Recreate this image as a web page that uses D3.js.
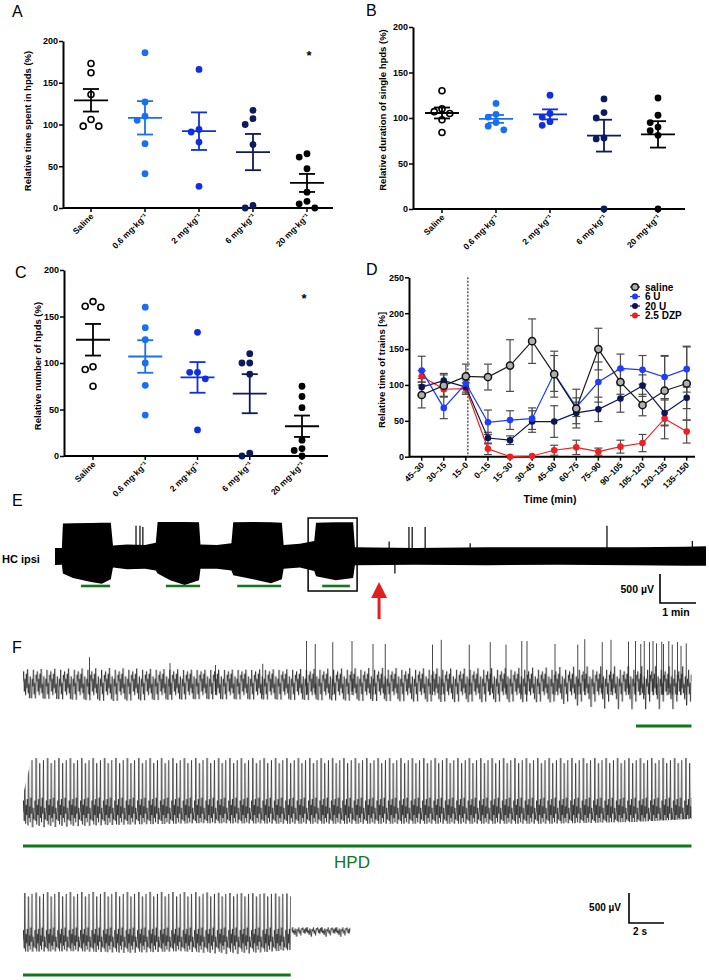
<!DOCTYPE html>
<html>
<head>
<meta charset="utf-8">
<script src="https://cdn.jsdelivr.net/npm/d3@7"></script>
<style>
body { margin: 0; background: #fff; }
svg { font-family: "Liberation Sans", Arial, sans-serif; }
</style>
</head>
<body>
<div id="fig"></div>
<script>
// ---- dose groups, panels A-C ----
const groups = ["Saline", "0.6 mg·kg⁻¹", "2 mg·kg⁻¹", "6 mg·kg⁻¹", "20 mg·kg⁻¹"];
const groupColors = ["#000000", "#1a6ff0", "#0f2fe0", "#0c1a5e", "#000000"];
const yTicksDose = [0, 50, 100, 150, 200];

// A: relative time spent in hpds (%)
const timeInHpds = [[173, 162, 136, 106, 98, 98], [186, 127, 110, 105, 77, 41], [166, 94, 91, 79, 26], [117, 107, 100, 76, 3, 0], [65, 61, 47, 19, 8, 5, 0]];
const timeMean = [129, 108, 92, 67, 30];
const timeSem = [13.5, 20, 22.5, 21.7, 10.8];

// B: relative duration of single hpds (%)
const durHpds = [[130, 110, 107, 105, 98, 84], [116, 104, 101, 95, 91, 87], [125, 105, 101, 96, 92], [121, 106, 100, 78, 77, 0], [122, 103, 95, 90, 86, 81, 0]];
const durMean = [105.5, 99, 104, 80.6, 82];
const durSem = [6, 4.3, 5.5, 17.5, 14.5];

// C: relative number of hpds (%)
const numHpds = [[166, 160, 161, 96, 93, 75], [160, 138, 125, 100, 76, 44], [133, 90, 90, 83, 28], [110, 100, 100, 88, 3, 0], [75, 64, 52, 17, 8, 6, 0]];
const numMean = [125, 107, 84.5, 67, 32];
const numSem = [17, 17.5, 16.5, 21, 11.5];

// ---- D: time course ----
const timeBins = ["45–30", "30–15", "15–0", "0–15", "15–30", "30–45", "45–60", "60–75", "75–90", "90–105", "105–120", "120–135", "135–150"];
const seriesNames = ["saline", "6 U", "20 U", "2.5 DZP"];
const salineD = [86, 99, 112, 111, 127, 161, 115, 67, 150, 104, 72, 92, 102];
const salineDsem = [18, 15, 17, 18, 36, 31, 32, 27, 29, 17, 15, 48, 51];
const u6D = [120, 68, 102, 48, 51, 53, 116, 69, 104, 123, 121, 111, 122];
const u6Dsem = [20, 15, 12, 17, 13, 15, 25, 13, 28, 20, 20, 30, 32];
const u20D = [97, 106, 97, 26, 23, 49, 49, 61, 66, 81, 99, 61, 82];
const u20Dsem = [12, 10, 10, 8, 6, 15, 22, 15, 17, 19, 15, 18, 15];
const dzpD = [112, 94, 95, 11, 0, 1, 9, 13, 7, 14, 19, 53, 35];
const dzpDsem = [8, 10, 8, 8, 0, 0, 7, 10, 5, 9, 12, 28, 16];

// ---- E: long trace, envelope [min, top µV, bottom µV] ----
const traceE = [[0, 138, -155], [0.19, 140, -150], [0.22, 560, -300], [0.5, 565, -380], [1.0, 570, -450], [1.3, 575, -480], [1.55, 575, -400],
  [1.61, 180, -200], [2.0, 200, -230], [2.5, 190, -220], [2.8, 230, -250], [2.85, 585, -300], [3.2, 585, -420], [3.6, 585, -500], [4.0, 580, -420],
  [4.04, 200, -220], [4.5, 190, -220], [4.9, 220, -250], [4.95, 580, -330], [5.5, 585, -400], [6.0, 580, -470], [6.3, 575, -400],
  [6.35, 190, -220], [6.8, 210, -200], [7.2, 260, -260], [7.25, 575, -350], [7.8, 580, -420], [8.28, 580, -380],
  [8.33, 150, -160], [10, 140, -150], [12, 150, -160], [14, 150, -150], [16, 150, -160], [17.5, 160, -170], [18.08, 170, -170]];
const spikesE = [[2.25, 520], [2.36, 520], [2.44, 500], [9.28, 250], [9.44, -300], [9.83, 500], [9.92, 500], [10.28, 500], [11.53, 220], [15.33, 520], [17.7, 260]];
const hpdE = [[0.72, 1.53], [3.08, 4.03], [5.06, 6.28], [7.42, 8.19]];
const boxE = [7.03, 8.39];
const arrowE = 9.0;

// ---- F: expanded traces ----
// row 1 [s, top µV, bottom µV]; rows 2-3 [s, spike top µV, band top µV, band bottom µV]
const row1F = [[0, 230, -250], [5, 250, -300], [10, 220, -270], [15, 230, -280], [20, 250, -300], [25, 240, -320], [30, 260, -320], [34, 300, -450], [36.5, 300, -500], [38.2, 280, -350]];
const spikes1F = [[3.8, 430], [8.4, 330], [11, 300], [13.7, 320], [16.2, 700], [16.7, 650], [17.7, 680], [18.8, 700], [20.0, 650], [20.7, 650], [23.4, 640], [23.9, 720],
  [25.5, 640], [26.7, 680], [27.6, 640], [28.5, 700], [28.8, 700], [30.4, 650], [31.7, 640], [32.1, 730], [33.1, 680], [33.6, 720], [34.6, 690], [35.0, 700],
  [35.3, 650], [35.5, 700], [35.8, 680], [36.0, 700], [36.2, 660], [36.5, 690], [36.6, 650], [36.9, 700], [37.1, 640], [37.4, 680], [37.6, 620], [37.9, 660]];
const row2F = [[0, 250, 120, -200], [0.5, 880, 230, -300], [5, 880, 230, -250], [10, 900, 230, -220], [15, 880, 230, -230], [20, 900, 230, -230], [25, 900, 230, -230], [30, 880, 230, -230], [35, 880, 220, -200], [38.2, 880, 200, -150]];
const row3F = [[0, 800, 150, -180], [3, 830, 150, -170], [6, 850, 160, -200], [9, 820, 150, -170], [12, 800, 150, -230], [15.3, 790, 150, -150]];
const tail3F = [[15.35, 230, 230, 70], [18.7, 230, 230, 70]];
const hpdF = [[35.03, 38.2], [0, 38.2], [0, 15.3]];

const svg = d3.select("#fig").append("svg")
  .attr("width", 709)
  .attr("height", 980);

const defs = svg.append("defs");
// texture motifs (fractions of the tile height) used to shade the EEG envelopes
const noiseMotif = [0.35, 0.15, 0.55, 0.3, 0.62, 0.2, 0.48, 0.05, 0.58, 0.4, 0.7, 0.25, 0.5, 0.9, 0.3, 0.45, 0.12, 0.6, 0.38, 0.75, 0.22];
const spikeMotif = [0.78, 0.62, 0.9, 0.03, 0.95, 0.68, 0.82, 0.6, 0.97, 0.1, 0.86, 0.7, 0.92, 0.58, 0.8, 0.06, 0.99, 0.72, 0.88];
function motifPattern(id, x0, yTop, h, step, motif, color, sw) {
  const pts = motif.concat([motif[0]]).map((f, i) => [i * step, f * h]);
  defs.append("pattern").attr("id", id)
    .attr("patternUnits", "userSpaceOnUse")
    .attr("x", x0).attr("y", yTop)
    .attr("width", step * motif.length).attr("height", h)
    .append("path")
      .attr("d", d3.line()(pts))
      .attr("fill", "none").attr("stroke", color).attr("stroke-width", sw);
}

// panel letters
[["A", 12, 17], ["B", 366, 16], ["C", 15, 278], ["D", 366, 275], ["E", 12, 506], ["F", 12, 653]].forEach(d => {
  svg.append("text").attr("x", d[1]).attr("y", d[2]).attr("font-size", 16).text(d[0]);
});

function styleAxis(ax) {
  ax.select(".domain").attr("stroke", "#000").attr("stroke-width", 2);
  ax.selectAll(".tick line").attr("stroke", "#000").attr("stroke-width", 1.5);
  ax.selectAll(".tick text").attr("font-size", 9).attr("font-weight", "bold").attr("font-family", "Liberation Sans, Arial, sans-serif").attr("fill", "#000");
}

// simple swarm so equal values sit side by side
function swarm(vals, y, r) {
  const placed = [], out = [];
  const order = vals.map((v, i) => i).sort((a, b) => vals[b] - vals[a]);
  order.forEach(i => {
    const py = y(vals[i]);
    for (const k of [0, -1, 1, -2, 2, -3, 3]) {
      const px = k * (2 * r + 1);
      if (placed.every(q => Math.hypot(q[0] - px, q[1] - py) >= 2 * r + 0.5)) {
        placed.push([px, py]); out[i] = px; break;
      }
    }
  });
  return out;
}

function dotPanel(p) {
  const g = svg.append("g");
  const y = d3.scaleLinear().domain([0, 200]).range([p.yBottom, p.yTop]);
  const x = d3.scalePoint().domain(groups).range([p.xFirst, p.xLast]);

  g.append("line")
    .attr("x1", p.axisX).attr("x2", p.axisEnd)
    .attr("y1", y(0)).attr("y2", y(0))
    .attr("stroke", "#000").attr("stroke-width", 2);
  const ya = g.append("g")
    .attr("transform", `translate(${p.axisX},0)`)
    .call(d3.axisLeft(y).tickValues(yTicksDose).tickSize(4).tickSizeOuter(0).tickPadding(1));
  styleAxis(ya);

  g.selectAll(".xt").data(groups).enter().append("line")
    .attr("x1", d => x(d)).attr("x2", d => x(d))
    .attr("y1", y(0)).attr("y2", y(0) + 4)
    .attr("stroke", "#000").attr("stroke-width", 1.5);
  g.selectAll(".xl").data(groups).enter().append("text")
    .attr("transform", d => `translate(${x(d) + 3},${y(0) + 9}) rotate(-45)`)
    .attr("text-anchor", "end")
    .attr("font-size", 8.5).attr("font-weight", "bold")
    .text(d => d);

  g.append("text")
    .attr("transform", `translate(${p.labelX},${p.labelY}) rotate(-90)`)
    .attr("text-anchor", "middle")
    .attr("font-size", 9.5).attr("font-weight", "bold")
    .text(p.ylabel);

  const r = 3.4;
  groups.forEach((grp, i) => {
    const col = groupColors[i];
    const cx = x(grp);
    const offs = swarm(p.values[i], y, r);
    p.values[i].forEach((v, j) => {
      g.append("circle")
        .attr("cx", cx + offs[j]).attr("cy", y(v)).attr("r", i === 0 ? 3 : r)
        .attr("fill", i === 0 ? "#fff" : col)
        .attr("stroke", col).attr("stroke-width", i === 0 ? 1.6 : 0);
    });
    const m = p.mean[i], s = p.sem[i];
    const seg = (x1, x2, yy) => g.append("line").attr("x1", x1).attr("x2", x2).attr("y1", yy).attr("y2", yy)
      .attr("stroke", col).attr("stroke-width", 1.8);
    seg(cx - 17, cx + 17, y(m));
    seg(cx - 8, cx + 8, y(m + s));
    seg(cx - 8, cx + 8, y(m - s));
    g.append("line").attr("x1", cx).attr("x2", cx).attr("y1", y(m + s)).attr("y2", y(m - s))
      .attr("stroke", col).attr("stroke-width", 1.8);
  });

  if (p.star) {
    g.append("text").attr("x", x(groups[4]) + 2).attr("y", y(p.star) + 6)
      .attr("text-anchor", "middle").attr("font-size", 13).attr("font-weight", "bold").text("*");
  }
}

dotPanel({ axisX: 63, axisEnd: 333, yTop: 41, yBottom: 208, xFirst: 91, xLast: 307,
  values: timeInHpds, mean: timeMean, sem: timeSem, star: 185,
  ylabel: "Relative time spent in hpds (%)", labelX: 31, labelY: 121 });
dotPanel({ axisX: 413, axisEnd: 685, yTop: 27, yBottom: 209, xFirst: 442, xLast: 658,
  values: durHpds, mean: durMean, sem: durSem,
  ylabel: "Relative duration of single hpds  (%)", labelX: 386, labelY: 110 });
dotPanel({ axisX: 64, axisEnd: 328, yTop: 270, yBottom: 456, xFirst: 93, xLast: 302,
  values: numHpds, mean: numMean, sem: numSem, star: 171,
  ylabel: "Relative number of hpds  (%)", labelX: 41, labelY: 366 });

// ---- panel D ----
{
  const g = svg.append("g");
  const x = d3.scalePoint().domain(timeBins).range([421.7, 686.7]);
  const y = d3.scaleLinear().domain([0, 250]).range([456.7, 277.3]);

  g.append("line").attr("x1", 409).attr("x2", 695).attr("y1", y(0)).attr("y2", y(0))
    .attr("stroke", "#000").attr("stroke-width", 2);
  const ya = g.append("g").attr("transform", "translate(409,0)")
    .call(d3.axisLeft(y).tickValues([0, 50, 100, 150, 200, 250]).tickSize(4).tickSizeOuter(0).tickPadding(1));
  styleAxis(ya);
  g.selectAll(".xt").data(timeBins).enter().append("line")
    .attr("x1", d => x(d)).attr("x2", d => x(d)).attr("y1", y(0)).attr("y2", y(0) + 4)
    .attr("stroke", "#000").attr("stroke-width", 1.5);
  g.selectAll(".xl").data(timeBins).enter().append("text")
    .attr("transform", d => `translate(${x(d) + 3},${y(0) + 9}) rotate(-45)`)
    .attr("text-anchor", "end").attr("font-size", 8.5).attr("font-weight", "bold")
    .text(d => d);
  g.append("text").attr("x", 550).attr("y", 503).attr("text-anchor", "middle")
    .attr("font-size", 10.5).attr("font-weight", "bold").text("Time (min)");
  g.append("text").attr("transform", "translate(385,370) rotate(-90)").attr("text-anchor", "middle")
    .attr("font-size", 9.5).attr("font-weight", "bold").text("Relative time of trains [%]");

  // injection time
  g.append("line").attr("x1", x("15–0") + 2).attr("x2", x("15–0") + 2).attr("y1", y(250)).attr("y2", y(0))
    .attr("stroke", "#333").attr("stroke-width", 1.2).attr("stroke-dasharray", "2,1.5");

  const series = [
    { name: "2.5 DZP", v: dzpD, s: dzpDsem, line: "#f02020", fill: "#f02020", stroke: "#f02020" },
    { name: "20 U", v: u20D, s: u20Dsem, line: "#0b1658", fill: "#0b1658", stroke: "#0b1658" },
    { name: "6 U", v: u6D, s: u6Dsem, line: "#1f3cff", fill: "#1f3cff", stroke: "#1f3cff" },
    { name: "saline", v: salineD, s: salineDsem, line: "#1a1a1a", fill: "#b0b0b0", stroke: "#111" }
  ];
  series.forEach(se => {
    timeBins.forEach((t, i) => {
      const cx = x(t), hi = y(se.v[i] + se.s[i]), lo = y(Math.max(0, se.v[i] - se.s[i]));
      if (se.s[i] === 0) return;
      g.append("line").attr("x1", cx).attr("x2", cx).attr("y1", hi).attr("y2", lo).attr("stroke", "#4a4a4a").attr("stroke-width", 1.2);
      [hi, lo].forEach(yy => g.append("line").attr("x1", cx - 4).attr("x2", cx + 4).attr("y1", yy).attr("y2", yy)
        .attr("stroke", "#4a4a4a").attr("stroke-width", 1.2));
    });
  });
  series.forEach(se => {
    g.append("path").datum(se.v)
      .attr("d", d3.line().x((d, i) => x(timeBins[i])).y(d => y(d)))
      .attr("fill", "none").attr("stroke", se.line).attr("stroke-width", 1.2);
    g.selectAll(null).data(se.v).enter().append("circle")
      .attr("cx", (d, i) => x(timeBins[i])).attr("cy", d => y(d))
      .attr("r", se.name === "saline" ? 3.6 : 3.3)
      .attr("fill", se.fill).attr("stroke", se.stroke).attr("stroke-width", se.name === "saline" ? 1.5 : 0);
  });

  // legend
  const legendStyle = { "saline": series[3], "6 U": series[2], "20 U": series[1], "2.5 DZP": series[0] };
  seriesNames.forEach((n, i) => {
    const st = legendStyle[n], ly = 287 + i * 9.5;
    g.append("line").attr("x1", 630).attr("x2", 640).attr("y1", ly).attr("y2", ly).attr("stroke", st.line).attr("stroke-width", 1.2);
    g.append("circle").attr("cx", 635).attr("cy", ly).attr("r", n === "saline" ? 3.3 : 3)
      .attr("fill", st.fill).attr("stroke", st.stroke).attr("stroke-width", n === "saline" ? 1.4 : 0);
    g.append("text").attr("x", 645).attr("y", ly + 3.5).attr("font-size", 10).attr("font-weight", "bold").text(n);
  });
}

// ---- panel E ----
{
  const g = svg.append("g");
  const x = d3.scaleLinear().domain([0, 18.08]).range([55, 706]);
  const y = d3.scaleLinear().domain([0, 500]).range([556, 527]);
  g.append("path").datum(traceE)
    .attr("d", d3.area().x(d => x(d[0])).y0(d => y(d[2])).y1(d => y(d[1])))
    .attr("fill", "#000");
  g.selectAll(null).data(spikesE).enter().append("line")
    .attr("x1", d => x(d[0])).attr("x2", d => x(d[0]))
    .attr("y1", y(0)).attr("y2", d => y(d[1]))
    .attr("stroke", "#000").attr("stroke-width", 1.2);
  g.selectAll(null).data(hpdE).enter().append("line")
    .attr("x1", d => x(d[0])).attr("x2", d => x(d[1])).attr("y1", 586).attr("y2", 586)
    .attr("stroke", "#12761a").attr("stroke-width", 2.6);
  g.append("rect").attr("x", x(boxE[0])).attr("y", 518).attr("width", x(boxE[1]) - x(boxE[0])).attr("height", 73)
    .attr("fill", "none").attr("stroke", "#000").attr("stroke-width", 1.5);
  const ax = x(arrowE);
  g.append("line").attr("x1", ax).attr("x2", ax).attr("y1", 619).attr("y2", 594).attr("stroke", "#e31e1e").attr("stroke-width", 3);
  g.append("path").attr("d", `M${ax},582 L${ax - 8},598 L${ax + 8},598 Z`).attr("fill", "#e31e1e");
  g.append("text").attr("x", 2).attr("y", 563).attr("font-size", 11).attr("font-weight", "bold").text("HC ipsi");
  // scale bar
  const sx = 660, sy = 603;
  g.append("path").attr("d", `M${sx},${sy - (y(0) - y(500))} V${sy} H${sx + x(1) - x(0)}`)
    .attr("fill", "none").attr("stroke", "#000").attr("stroke-width", 1.6);
  g.append("text").attr("x", 654).attr("y", 593).attr("text-anchor", "end").attr("font-size", 10.5).attr("font-weight", "bold").text("500 µV");
  g.append("text").attr("x", 676).attr("y", 616).attr("text-anchor", "middle").attr("font-size", 10.5).attr("font-weight", "bold").text("1 min");
}

// ---- panel F ----
{
  const g = svg.append("g");
  const x = d3.scaleLinear().domain([0, 38.2]).range([23, 691.5]);
  const uv = base => d3.scaleLinear().domain([0, 500]).range([base, base - 30]);

  // row 1: noise band + discrete spikes
  const y1 = uv(683);
  motifPattern("tex1", x(0), y1(320), y1(-520) - y1(320), 0.65, noiseMotif, "#222", 0.8);
  g.selectAll(null).data(spikes1F).enter().append("line")
    .attr("x1", d => x(d[0])).attr("x2", d => x(d[0]))
    .attr("y1", y1(-200)).attr("y2", d => y1(d[1]))
    .attr("stroke", "#333").attr("stroke-width", 0.9);
  g.append("path").datum(row1F)
    .attr("d", d3.area().x(d => x(d[0])).y0(d => y1(d[2])).y1(d => y1(d[1])))
    .attr("fill", "url(#tex1)");

  // rows 2 and 3: spikes over a dense band
  function burstRow(id, env, base) {
    const yy = uv(base);
    const top = d3.max(env, d => d[1]), bot = d3.min(env, d => d[3]);
    motifPattern(id, x(0), yy(top), yy(bot) - yy(top), 0.6, spikeMotif, "#1e1e1e", 0.75);
    g.append("path").datum(env)
      .attr("d", d3.area().x(d => x(d[0])).y0(d => yy(d[3])).y1(d => yy(d[1])))
      .attr("fill", `url(#${id})`);
  }
  burstRow("tex2", row2F, 810);
  burstRow("tex3", row3F, 941);
  {
    const yy = uv(941);
    motifPattern("tex3t", x(0), yy(260), yy(40) - yy(260), 0.7, noiseMotif, "#222", 0.8);
    g.append("path").datum(tail3F)
      .attr("d", d3.area().x(d => x(d[0])).y0(d => yy(d[3])).y1(d => yy(d[1])))
      .attr("fill", "url(#tex3t)");
  }

  [726, 846, 975].forEach((yy, i) => {
    g.append("line").attr("x1", x(hpdF[i][0])).attr("x2", x(hpdF[i][1])).attr("y1", yy).attr("y2", yy)
      .attr("stroke", "#12761a").attr("stroke-width", 3);
  });
  g.append("text").attr("x", 352).attr("y", 868).attr("text-anchor", "middle")
    .attr("font-size", 17).attr("fill", "#12761a").text("HPD");

  const sx = 629, sy = 923;
  g.append("path").attr("d", `M${sx},${sy - 30} V${sy} H${sx + x(2) - x(0)}`)
    .attr("fill", "none").attr("stroke", "#000").attr("stroke-width", 1.6);
  g.append("text").attr("x", 621).attr("y", 911).attr("text-anchor", "end").attr("font-size", 10).attr("font-weight", "bold").text("500 µV");
  g.append("text").attr("x", 640).attr("y", 935).attr("text-anchor", "middle").attr("font-size", 10).attr("font-weight", "bold").text("2 s");
}
</script>
</body>
</html>
